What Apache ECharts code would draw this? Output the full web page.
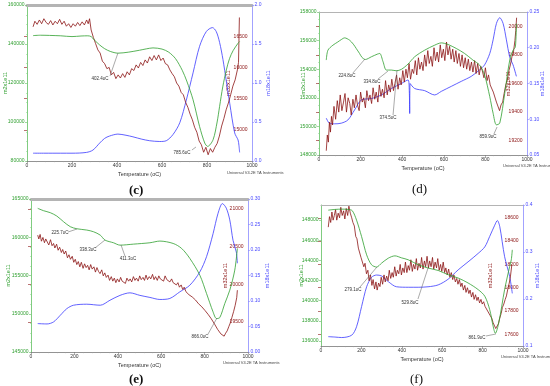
<!DOCTYPE html>
<html><head><meta charset="utf-8">
<script src="https://cdn.jsdelivr.net/npm/echarts@6/dist/echarts.min.js"></script>
<style>html,body{margin:0;padding:0;background:#fff}#c{width:550px;height:386px}</style>
</head><body><div id="c"></div>
<script>
// ---------------- DATA: panel (c) ----------------
const green_c = [[27,144300],[60,144500],[100,144400],[150,144200],[200,143800],[240,144100],[270,144200],[285,143800],[300,142000],[323,139500],[345,137600],[370,136200],[404,135300],[450,135800],[500,136800],[530,137500],[560,138000],[600,137400],[630,135800],[660,132500],[690,126500],[710,121000],[738,111400],[767,97700],[790,89200],[803,87500],[827,90900],[845,100000],[856,108000],[870,118000],[886,126700],[900,132500],[916,136600],[938,140400],[945,141300]];
const blue_c = [[27,0.10],[80,0.10],[150,0.10],[200,0.10],[264,0.11],[293,0.14],[323,0.23],[345,0.29],[367,0.32],[404,0.345],[440,0.33],[471,0.31],[510,0.28],[545,0.26],[590,0.25],[619,0.26],[649,0.34],[679,0.49],[708,0.78],[738,1.13],[767,1.47],[797,1.66],[824,1.71],[841,1.66],[856,1.52],[871,1.30],[886,1.02],[901,0.74],[923,0.36],[938,0.27],[942,0.20],[945,0.11]];
const red_c = [[27,16650],[35,16740],[45,16690],[55,16760],[65,16700],[75,16780],[85,16720],[95,16690],[105,16750],[115,16680],[125,16740],[135,16700],[145,16770],[155,16690],[165,16740],[175,16660],[185,16700],[195,16640],[205,16700],[215,16660],[225,16720],[235,16670],[245,16730],[255,16680],[265,16760],[272,16700],[278,16780],[285,16600],[295,16480],[305,16380],[315,16280],[325,16230],[335,16100],[345,16060],[355,15980],[365,16000],[375,15880],[385,15920],[395,15820],[405,15880],[415,15830],[425,15900],[435,15840],[445,15930],[455,15880],[465,15980],[475,15950],[485,16040],[495,15990],[505,16080],[515,16030],[525,16120],[535,16070],[545,16170],[555,16110],[565,16190],[575,16120],[585,16200],[595,16110],[605,16150],[615,16060],[625,16040],[635,15960],[645,15900],[655,15850],[665,15750],[675,15700],[685,15600],[695,15560],[705,15440],[715,15360],[725,15250],[735,15160],[745,15040],[755,14960],[765,14820],[775,14760],[785,14640],[795,14720],[805,14600],[815,14700],[825,14640],[835,14720],[845,14780],[855,14900],[865,15060],[875,15180],[885,15320],[895,15430],[905,15560],[915,15700],[925,15800],[935,15960],[940,16080],[944,16800]];
const notes_c = [
  {text:'402.4oC', tx:324, ty:122050, lx:369, ly:123600, px:404, py:135300},
  {text:'785.6oC', tx:689, ty:84100, lx:733, ly:85640, px:751, py:87180}
];
// ---------------- DATA: panel (d) ----------------
const green_d = [[35,154640],[43,155330],[67,155680],[90,155900],[107,156070],[123,156190],[147,156030],[165,155750],[179,155450],[195,155100],[207,154820],[223,154680],[252,154870],[280,155050],[292,155100],[308,154520],[324,153940],[348,153940],[372,153890],[396,153990],[428,154360],[460,154870],[508,155330],[556,155680],[588,155840],[620,155730],[660,155450],[700,155100],[740,154640],[772,154290],[796,153590],[821,152080],[837,150920],[853,150110],[869,150230],[893,152320],[917,154640],[933,155330],[944,155560],[949,157190]];
const blue_d = [[35,0.1015],[50,0.0945],[75,0.0936],[107,0.0945],[139,0.099],[171,0.113],[204,0.127],[252,0.129],[300,0.134],[348,0.143],[396,0.150],[428,0.155],[434,0.140],[436,0.108],[438,0.150],[460,0.143],[508,0.140],[556,0.134],[588,0.139],[636,0.146],[684,0.153],[732,0.160],[772,0.169],[796,0.176],[821,0.192],[837,0.211],[853,0.234],[869,0.242],[885,0.234],[901,0.211],[917,0.187],[933,0.176],[949,0.160]];
const red_d = [[35,19130],[40,19240],[45,19190],[50,19330],[55,19260],[60,19370],[65,19310],[72,19440],[80,19350],[88,19480],[95,19400],[102,19520],[110,19410],[118,19470],[125,19530],[132,19400],[140,19500],[148,19460],[155,19380],[163,19490],[170,19430],[178,19520],[185,19450],[193,19410],[200,19540],[208,19470],[215,19500],[223,19430],[230,19550],[238,19480],[245,19520],[253,19460],[260,19570],[268,19490],[275,19540],[283,19470],[290,19590],[298,19510],[305,19560],[313,19500],[320,19620],[328,19520],[335,19590],[343,19540],[350,19630],[358,19550],[365,19600],[373,19660],[380,19560],[388,19640],[395,19590],[403,19690],[410,19610],[418,19700],[425,19640],[433,19740],[440,19630],[448,19700],[455,19670],[463,19760],[470,19660],[478,19780],[485,19700],[493,19750],[500,19690],[508,19800],[515,19720],[523,19830],[530,19740],[538,19790],[545,19720],[553,19850],[560,19760],[568,19820],[575,19750],[583,19870],[590,19780],[598,19840],[605,19760],[613,19890],[620,19800],[628,19860],[635,19770],[643,19840],[650,19750],[658,19830],[665,19740],[673,19810],[680,19720],[688,19800],[695,19710],[703,19780],[710,19700],[718,19770],[725,19690],[733,19750],[740,19680],[748,19760],[755,19670],[763,19740],[770,19660],[778,19720],[785,19690],[793,19640],[800,19710],[808,19620],[815,19660],[823,19590],[830,19600],[838,19540],[845,19530],[853,19470],[860,19480],[868,19410],[875,19450],[883,19470],[890,19530],[898,19590],[905,19620],[913,19690],[920,19730],[928,19790],[935,19820],[942,19900],[946,19970],[950,20060]];
const notes_d = [
  {text:'224.8oC', tx:135, ty:153525, lx:163, ly:153734, px:221, py:154713},
  {text:'334.8oC', tx:255, ty:153105, lx:284, ly:153315, px:332, py:153874},
  {text:'374.5oC', tx:332, ty:150587, lx:356, ly:150797, px:375, py:153944},
  {text:'859.9oC', tx:812, ty:149259, lx:841, ly:149469, px:856, py:149958}
];
// ---------------- DATA: panel (e) ----------------
const green_e = [[31,163780],[58,163470],[89,163210],[119,162770],[150,162030],[181,161380],[211,161110],[257,160940],[288,160720],[319,160280],[341,159630],[380,159280],[410,158970],[472,159100],[548,159280],[594,159500],[655,159190],[694,158540],[732,157230],[778,155040],[809,152640],[839,150240],[855,149370],[870,149500],[893,151330],[916,153080],[939,155700],[951,158540]];
const blue_e = [[31,0.0557],[74,0.055],[104,0.059],[135,0.072],[165,0.085],[196,0.0917],[257,0.0937],[319,0.0917],[364,0.1015],[410,0.111],[456,0.116],[502,0.111],[548,0.107],[594,0.103],[640,0.105],[686,0.118],[732,0.131],[778,0.157],[809,0.187],[839,0.232],[862,0.272],[882,0.291],[900,0.282],[916,0.259],[931,0.219],[946,0.196],[951,0.174]];
const red_e = [[31,20650],[36,20600],[42,20660],[48,20570],[55,20620],[62,20550],[68,20600],[75,20580],[82,20520],[90,20590],[97,20510],[104,20540],[110,20480],[118,20530],[125,20450],[132,20490],[140,20420],[146,20460],[153,20400],[160,20440],[168,20350],[175,20390],[182,20330],[190,20370],[197,20290],[204,20330],[211,20260],[218,20300],[225,20230],[232,20290],[240,20210],[247,20270],[254,20220],[261,20250],[268,20190],[275,20260],[282,20200],[290,20230],[297,20160],[304,20220],[311,20170],[318,20140],[326,20190],[333,20110],[340,20150],[347,20090],[355,20120],[362,20050],[370,20100],[377,20040],[384,20080],[391,20020],[398,20070],[406,20030],[413,20090],[420,20040],[428,20060],[435,20010],[442,20080],[450,20040],[457,20070],[464,20030],[472,20100],[479,20050],[486,20080],[494,20040],[501,20110],[508,20060],[516,20090],[523,20050],[530,20120],[537,20060],[545,20100],[552,20070],[560,20130],[567,20060],[574,20100],[582,20050],[589,20110],[596,20070],[604,20090],[611,20040],[618,20110],[626,20060],[633,20080],[640,20030],[648,20070],[655,20020],[662,20040],[670,19990],[677,20020],[684,19960],[692,19990],[699,19930],[706,19960],[714,19900],[721,19920],[728,19860],[736,19880],[743,19830],[750,19840],[758,19790],[765,19780],[772,19740],[780,19750],[787,19700],[794,19700],[802,19650],[809,19660],[816,19600],[824,19590],[831,19540],[838,19530],[846,19470],[853,19450],[860,19400],[868,19390],[875,19340],[882,19360],[890,19310],[897,19350],[904,19380],[912,19440],[919,19490],[926,19560],[934,19640],[941,19720],[948,19820],[951,19920]];
const notes_e = [
  {text:'225.7oC', tx:134, ty:160556, lx:171, ly:160687, px:212, py:161078},
  {text:'338.3oC', tx:263, ty:158333, lx:295, ly:158595, px:341, py:159641},
  {text:'411.3oC', tx:447, ty:157157, lx:433, ly:157549, px:415, py:158987},
  {text:'866.0oC', tx:779, ty:146961, lx:816, ly:147353, px:857, py:149444}
];
// ---------------- DATA: panel (f) ----------------
const green_f = [[36,148990],[69,149060],[102,149090],[135,149060],[155,148930],[176,148000],[201,146360],[226,144550],[250,143570],[275,143340],[300,143730],[333,144220],[366,144450],[399,144250],[432,144060],[481,143570],[530,143240],[580,143000],[629,142580],[679,142250],[728,141760],[778,141100],[811,140440],[835,139120],[852,137480],[863,136760],[880,137810],[909,141100],[934,143400],[942,144060],[947,145050]];
const blue_f = [[36,0.1199],[70,0.119],[102,0.118],[152,0.123],[176,0.141],[201,0.184],[226,0.226],[250,0.246],[275,0.251],[300,0.249],[333,0.237],[374,0.226],[432,0.225],[481,0.225],[530,0.226],[580,0.230],[629,0.242],[679,0.262],[728,0.279],[778,0.297],[811,0.311],[835,0.333],[860,0.357],[873,0.367],[885,0.354],[909,0.290],[934,0.248],[947,0.212]];
const red_f = [[36,18520],[42,18610],[48,18560],[54,18650],[60,18580],[66,18620],[72,18670],[78,18580],[85,18640],[92,18600],[98,18690],[105,18620],[112,18660],[118,18590],[125,18680],[132,18620],[138,18700],[145,18640],[152,18600],[158,18560],[165,18530],[172,18440],[178,18420],[185,18340],[192,18330],[198,18260],[205,18270],[212,18180],[218,18210],[225,18120],[232,18150],[238,18060],[245,18110],[252,18020],[258,18070],[265,17990],[272,18050],[278,17980],[285,18040],[292,18010],[298,18090],[305,18030],[312,18110],[318,18050],[325,18100],[332,18060],[338,18150],[345,18080],[352,18130],[358,18090],[365,18180],[372,18100],[378,18150],[385,18120],[392,18200],[398,18110],[405,18170],[412,18130],[418,18220],[425,18130],[432,18190],[438,18150],[445,18240],[452,18140],[458,18200],[465,18160],[472,18250],[478,18150],[485,18210],[492,18170],[498,18260],[505,18160],[512,18230],[518,18180],[525,18270],[532,18170],[538,18230],[545,18180],[552,18260],[558,18160],[565,18220],[572,18170],[578,18250],[585,18150],[592,18200],[598,18140],[605,18220],[612,18130],[618,18170],[625,18110],[632,18160],[638,18090],[645,18130],[652,18070],[658,18110],[665,18050],[672,18080],[678,18030],[685,18070],[692,18010],[698,18040],[705,17980],[712,18020],[718,17960],[725,18000],[732,17950],[738,17980],[745,17920],[752,17960],[758,17900],[765,17940],[772,17890],[778,17920],[785,17870],[792,17900],[798,17860],[805,17880],[812,17840],[818,17850],[825,17800],[832,17800],[838,17760],[845,17740],[852,17700],[858,17690],[865,17650],[872,17660],[878,17690],[885,17740],[892,17780],[898,17830],[905,17860],[912,17900],[918,17930],[925,17990],[932,18040],[938,18100],[945,18200]];
const notes_f = [
  {text:'279.1oC', tx:158, ty:141060, lx:193, ly:141358, px:277, py:143344},
  {text:'529.8oC', tx:441, ty:139770, lx:480, ly:140167, px:530, py:143245},
  {text:'861.9oC', tx:772, ty:136294, lx:817, ly:136493, px:866, py:136692}
];
// tick labels
const ticks_green_f = [136000,138000,140000,142000,144000,146000,148000];
const ticks_red_c = [15000,15500,16000,16500];
const ticks_red_d = [19200,19400,19600,19800,20000];
const ticks_red_e = [19500,20000,20500,21000];
const ticks_red_f = [17600,17800,18000,18200,18400,18600];
const panelLabels = ['(c)','(d)','(e)','(f)'];

// ---------------- LAYOUT ----------------
const FONT = 'Liberation Sans';
const GREEN = '#2f9f2f', RED = '#8c1414', BLUE = '#3a3aff';
const panels = [
  {grid:{left:27, top:5, width:225, height:156}, gy:{min:80000,max:160000,interval:20000}, gyTicks:null,
   ry:{min:14500,max:17000}, ryTicks:ticks_red_c, by:{min:0,max:2,interval:0.5}, bdec:1, topW:3,
   green:green_c, red:red_c, blue:blue_c, notes:notes_c, gGap:19, rGap:-27, bGap:13,
   lab:{x:137,y:191,bold:true}, univ:{x:227,y:173}},
  {grid:{left:319, top:12, width:208, height:143}, gy:{min:148000,max:158000,interval:2000}, gyTicks:null,
   ry:{min:19100,max:20100}, ryTicks:ticks_red_d, by:{min:0.05,max:0.25,interval:0.05}, bdec:2, topW:1,
   green:green_d, red:red_d, blue:blue_d, notes:notes_d, gGap:13, rGap:-22, bGap:12,
   lab:{x:420,y:190,bold:false}, univ:{x:503,y:166}},
  {grid:{left:31, top:199, width:217, height:153}, gy:{min:145000,max:165000,interval:5000}, gyTicks:null,
   ry:{min:19100,max:21130}, ryTicks:ticks_red_e, by:{min:0,max:0.3,interval:0.05}, bdec:2, topW:3,
   green:green_e, red:red_e, blue:blue_e, notes:notes_e, gGap:20, rGap:-26, bGap:16,
   lab:{x:137,y:380,bold:true}, univ:{x:223,y:363}},
  {grid:{left:321, top:205, width:202, height:141}, gy:{min:135500,max:149500}, gyTicks:ticks_green_f,
   ry:{min:17500,max:18710}, ryTicks:ticks_red_f, by:{min:0.1,max:0.4,interval:0.1}, bdec:1, topW:1,
   green:green_f, red:red_f, blue:blue_f, notes:notes_f, gGap:17, rGap:-36, bGap:11,
   lab:{x:418,y:380,bold:false}, univ:{x:501,y:357}}
];

const grids = [], xAxes = [], yAxes = [], series = [], graphics = [];
panels.forEach((p, i) => {
  grids.push(Object.assign({containLabel:false, show:false}, p.grid));
  xAxes.push({
    gridIndex:i, type:'value', position:'bottom', min:0, max:1000, interval:200,
    axisLine:{lineStyle:{color:'#777', width:0.8}},
    axisTick:{length:2, lineStyle:{color:'#777', width:0.6}},
    minorTick:{show:true, splitNumber:5, length:1.2, lineStyle:{color:'#999', width:0.5}},
    splitLine:{show:false},
    axisLabel:{fontSize:5, color:'#333', margin:2.5, fontFamily:FONT, formatter:v=>String(Math.round(v))},
    name:'Temperature (oC)', nameLocation:'middle', nameGap:10, nameMoveOverlap:false,
    nameTextStyle:{fontSize:5.5, color:'#333', fontFamily:FONT}
  });
  xAxes.push({
    gridIndex:i, type:'value', position:'top', min:0, max:1000,
    axisLine:{show:true, lineStyle:{color:'#b4b4b4', width:p.topW}},
    axisTick:{show:false}, axisLabel:{show:false}, splitLine:{show:false}
  });
  const gAxis = {
    gridIndex:i, type:'value', position:'left', min:p.gy.min, max:p.gy.max,
    axisLine:{show:true, lineStyle:{color:'#5fbf5f', width:0.8}},
    axisTick:{length:2, lineStyle:{color:'#5fbf5f', width:0.6}},
    minorTick:{show:true, splitNumber:4, length:1, lineStyle:{color:'#7fcf7f', width:0.5}},
    splitLine:{show:false},
    axisLabel:{fontSize:5, color:GREEN, margin:2.5, fontFamily:FONT, formatter:v=>String(Math.round(v))},
    name:'m2x1e11', nameLocation:'middle', nameGap:p.gGap, nameMoveOverlap:false,
    nameTextStyle:{fontSize:5.5, color:GREEN, fontFamily:FONT}
  };
  if (p.gy.interval) gAxis.interval = p.gy.interval;
  if (p.gyTicks) {
    gAxis.axisLabel.customValues = p.gyTicks;
    gAxis.axisTick.customValues = p.gyTicks;
    gAxis.minorTick.show = false;
  }
  yAxes.push(gAxis);
  yAxes.push({
    gridIndex:i, type:'value', position:'right', min:p.ry.min, max:p.ry.max,
    axisLine:{show:false},
    axisTick:{show:true, inside:true, length:3, customValues:p.ryTicks, lineStyle:{color:RED, width:0.6}},
    splitLine:{show:false},
    axisLabel:{inside:true, fontSize:5, color:RED, margin:4.5, fontFamily:FONT, customValues:p.ryTicks,
               formatter:v=>String(Math.round(v))},
    name:'m32x1e11', nameLocation:'middle', nameGap:p.rGap, nameMoveOverlap:false,
    nameTextStyle:{fontSize:5.5, color:RED, fontFamily:FONT}
  });
  yAxes.push({
    gridIndex:i, type:'value', position:'right', min:p.by.min, max:p.by.max, interval:p.by.interval,
    axisLine:{show:true, lineStyle:{color:'#8a8aff', width:0.8}},
    axisTick:{length:2, lineStyle:{color:'#8a8aff', width:0.6}},
    minorTick:{show:true, splitNumber:5, length:1, lineStyle:{color:'#a0a0ff', width:0.5}},
    splitLine:{show:false},
    axisLabel:{fontSize:5, color:'#4a4aff', margin:2.5, fontFamily:FONT, formatter:v=>v.toFixed(p.bdec)},
    name:'m18x1e11', nameLocation:'middle', nameGap:p.bGap, nameMoveOverlap:false,
    nameTextStyle:{fontSize:5.5, color:'#4a4aff', fontFamily:FONT}
  });
  const base = {type:'line', showSymbol:false, symbol:'none', xAxisIndex:2*i, clip:true, animation:false};
  series.push(Object.assign({}, base, {name:'blue'+i, yAxisIndex:3*i+2, data:p.blue, smooth:0.3,
    lineStyle:{color:BLUE, width:0.8}}));
  series.push(Object.assign({}, base, {name:'red'+i, yAxisIndex:3*i+1, data:p.red,
    lineStyle:{color:RED, width:0.8}}));
  series.push(Object.assign({}, base, {name:'green'+i, yAxisIndex:3*i, data:p.green, smooth:0.3,
    lineStyle:{color:GREEN, width:0.8},
    markLine:{silent:true, symbol:['none','none'], animation:false,
      lineStyle:{color:'#555', width:0.5, type:'solid'}, label:{show:false},
      data:p.notes.map(n=>[{coord:[n.lx,n.ly]},{coord:[n.px,n.py]}])},
    markPoint:{silent:true, symbol:'circle', symbolSize:0, animation:false,
      label:{show:true, position:'inside', fontSize:4.5, color:'#333', fontFamily:FONT, formatter:q=>q.name},
      data:p.notes.map(n=>({name:n.text, coord:[n.tx,n.ty]}))}
  }));
  graphics.push({type:'text', left:p.lab.x-8, top:p.lab.y-7,
    style:{text:panelLabels[i], font:(p.lab.bold?'bold ':'')+'13px "Liberation Serif"', fill:'#111'}});
  graphics.push({type:'text', left:p.univ.x, top:p.univ.y-2.5,
    style:{text:'Universal V4.2E TA Instruments', font:'4px "Liberation Sans"', fill:'#444'}});
});

const chart = echarts.init(document.getElementById('c'), null, {renderer:'canvas'});
chart.setOption({
  animation:false, backgroundColor:'#fff',
  grid:grids, xAxis:xAxes, yAxis:yAxes, series:series, graphic:graphics
});
</script></body></html>
